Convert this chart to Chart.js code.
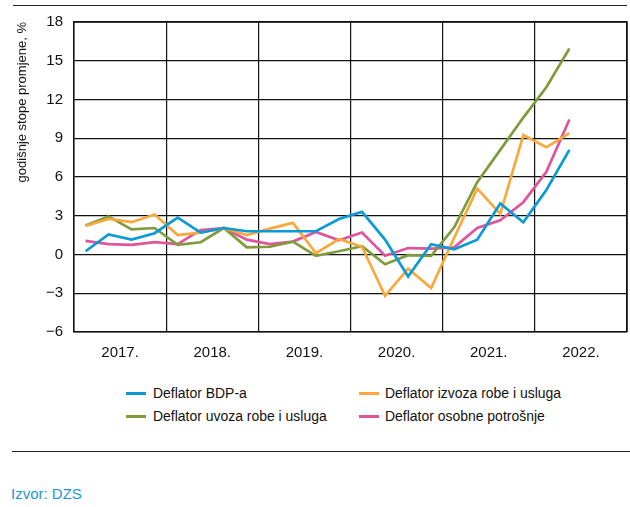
<!DOCTYPE html>
<html>
<head>
<meta charset="utf-8">
<script src="https://cdn.jsdelivr.net/npm/chart.js@4"></script>
<style>
  html, body { margin:0; padding:0; background:#fff; }
  body { width:630px; height:507px; position:relative; overflow:hidden;
         font-family:'Liberation Sans',Arial,sans-serif; }
  #wrap { position:absolute; left:0; top:0; width:630px; height:370px; }
  .rule { position:absolute; height:0; border-top:1.5px solid #222; }
  .leg { position:absolute; font-size:15.5px; color:#111; line-height:18px; white-space:nowrap;
         transform-origin:0 50%; transform:scaleX(0.9); }
  .sw { position:absolute; width:20px; height:3px; }
  #src { position:absolute; left:11px; top:485px; font-size:15px; color:#1b96d3; }
</style>
</head>
<body>
<div class="rule" style="left:13px; top:5px; width:614px;"></div>
<div id="wrap"><canvas id="c" width="630" height="370"></canvas></div>
<div class="sw" style="left:126px; top:392px; background:#0b9ad8"></div>
<div class="leg" style="left:153px; top:384px;">Deflator BDP-a</div>
<div class="sw" style="left:359px; top:392px; background:#f9a83b"></div>
<div class="leg" style="left:385px; top:384px;">Deflator izvoza robe i usluga</div>
<div class="sw" style="left:126px; top:415px; background:#7f9b3b"></div>
<div class="leg" style="left:153px; top:407px;">Deflator uvoza robe i usluga</div>
<div class="sw" style="left:359px; top:415px; background:#e0559a"></div>
<div class="leg" style="left:385px; top:407px;">Deflator osobne potrošnje</div>
<div class="rule" style="left:12px; top:451px; width:618px;"></div>
<div id="src">Izvor: DZS</div>
<script>
const years = [2017, 2018, 2019, 2020, 2021, 2022];
const quartersPerYear = 4;
const yTicks = [-6, -3, 0, 3, 6, 9, 12, 15, 18];
const seriesNames = ['Deflator BDP-a', 'Deflator izvoza robe i usluga', 'Deflator uvoza robe i usluga', 'Deflator osobne potrošnje'];
// quarterly values, 2017 Q1 – 2022 Q2
const bdp     = [0.25, 1.55, 1.15, 1.65, 2.85, 1.7, 2.05, 1.8, 1.8, 1.8, 1.8, 2.75, 3.3, 1.15, -1.7, 0.8, 0.4, 1.15, 3.95, 2.5, 5.0, 8.1];
const izvoz   = [2.2, 2.75, 2.5, 3.1, 1.5, 1.7, 2.05, 1.5, 2.0, 2.45, 0.1, 1.2, 0.6, -3.2, -1.1, -2.6, 1.3, 5.1, 3.15, 9.25, 8.3, 9.4];
const uvoz    = [2.25, 2.95, 1.95, 2.05, 0.75, 0.95, 2.05, 0.55, 0.6, 1.0, -0.1, 0.25, 0.65, -0.75, -0.05, -0.1, 2.1, 5.6, 8.1, 10.6, 12.95, 15.95];
const osobna  = [1.05, 0.8, 0.75, 0.95, 0.8, 1.9, 2.05, 1.15, 0.8, 1.0, 1.75, 1.1, 1.7, -0.1, 0.5, 0.45, 0.55, 2.05, 2.65, 4.05, 6.4, 10.45];
const colors = ['#0b9ad8', '#f9a83b', '#7f9b3b', '#e0559a'];

const toPts = arr => arr.map((v, i) => ({ x: i + 0.5, y: v }));
const FONT = "'Liberation Sans',Arial,sans-serif";

new Chart(document.getElementById('c'), {
  type: 'line',
  data: {
    datasets: [bdp, izvoz, uvoz, osobna].map((d, k) => ({
      label: seriesNames[k],
      data: toPts(d),
      borderColor: colors[k],
      backgroundColor: colors[k],
      borderWidth: 2.7,
      pointRadius: 0,
      tension: 0,
      fill: false
    }))
  },
  options: {
    responsive: false,
    animation: false,
    layout: { autoPadding: false, padding: { left: 0, right: 3, top: 22, bottom: 0 } },
    plugins: { legend: { display: false }, tooltip: { enabled: false } },
    scales: {
      x: {
        type: 'linear',
        min: 0,
        max: years.length * quartersPerYear,
        afterBuildTicks: s => { const t = []; for (let v = 0; v <= years.length * quartersPerYear; v += 2) t.push({ value: v }); s.ticks = t; },
        afterFit: s => { s.height = 38; s.paddingLeft = 0; s.paddingRight = 0; },
        grid: {
          color: c => (c.tick && c.tick.value % 4 === 0) ? '#111' : 'rgba(0,0,0,0)',
          lineWidth: 1.2,
          drawTicks: false
        },
        border: { display: true, color: '#111', width: 1.5 },
        ticks: {
          autoSkip: false,
          maxRotation: 0,
          padding: 12,
          color: '#111',
          font: { family: FONT, size: 15 },
          callback: v => (v % 4 === 2) ? years[(v - 2) / 4] + '.' : ''
        }
      },
      y: {
        min: yTicks[0],
        max: yTicks[yTicks.length - 1],
        afterBuildTicks: s => { s.ticks = yTicks.map(v => ({ value: v })); },
        afterFit: s => { s.width = 74; s.paddingTop = 0; s.paddingBottom = 0; },
        grid: { color: '#111', lineWidth: 1.2, drawTicks: false },
        border: { display: true, color: '#111', width: 1.5 },
        ticks: {
          padding: 11,
          color: '#111',
          font: { family: FONT, size: 15 },
          callback: v => String(v).replace('-', '\u2212')
        },
        title: {
          display: true,
          text: 'godišnje stope promjene, %',
          align: 'end',
          color: '#111',
          font: { family: FONT, size: 13 },
          padding: { top: 15, bottom: 0 }
        }
      }
    }
  },
  plugins: [{
    id: 'frame',
    afterDraw(chart) {
      const { ctx, chartArea: a } = chart;
      ctx.save();
      ctx.strokeStyle = '#111';
      ctx.lineWidth = 1.5;
      ctx.beginPath();
      ctx.moveTo(a.left, a.top); ctx.lineTo(a.right, a.top); ctx.lineTo(a.right, a.bottom);
      ctx.stroke();
      ctx.restore();
    }
  }]
});
</script>
</body>
</html>
